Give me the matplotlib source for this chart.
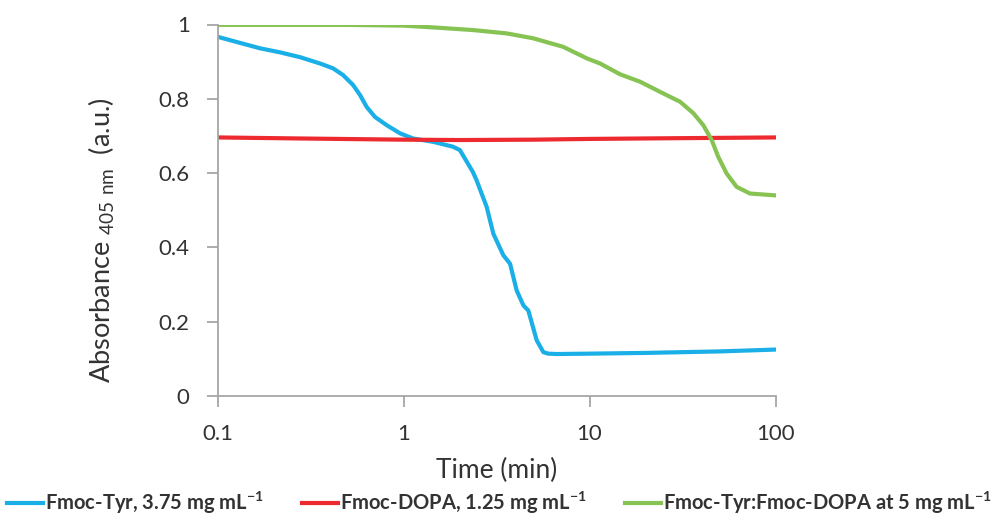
import matplotlib
matplotlib.use("Agg")
import matplotlib.pyplot as plt
from matplotlib.ticker import FixedLocator, FixedFormatter, NullLocator

plt.rcParams['font.family'] = ['Lato', 'DejaVu Sans']

# Data
tyr_x = [0.1, 0.169, 0.217, 0.278, 0.356, 0.418, 0.473, 0.536, 0.584, 0.634, 0.703, 0.812,
         0.958, 1.129, 1.45, 1.845, 2.01, 2.36, 2.47, 2.80, 3.04, 3.44, 3.74, 4.06, 4.41, 4.69,
         5.20, 5.65, 6.0, 6.67, 10, 20, 50, 100]
tyr_y = [0.967, 0.936, 0.925, 0.912, 0.895, 0.882, 0.864, 0.837, 0.810, 0.778, 0.751, 0.729,
         0.707, 0.693, 0.684, 0.671, 0.662, 0.603, 0.581, 0.509, 0.437, 0.379, 0.356, 0.284,
         0.244, 0.230, 0.150, 0.118, 0.114, 0.113, 0.114, 0.116, 0.120, 0.125]

dopa_x = [0.1, 0.3, 1, 2, 5, 10, 30, 100]
dopa_y = [0.696, 0.693, 0.690, 0.689, 0.690, 0.692, 0.694, 0.696]

mix_x = [0.1, 0.5, 1.0, 1.57, 2.37, 3.59, 4.97, 7.21, 9.66, 11.4, 14.6, 18.7, 23.9, 30.7,
         36.2, 40.9, 45.4, 49.2, 54.6, 61.8, 72.9, 100]
mix_y = [0.999, 0.999, 0.997, 0.991, 0.985, 0.976, 0.963, 0.940, 0.909, 0.895, 0.866, 0.846,
         0.819, 0.792, 0.761, 0.729, 0.689, 0.644, 0.599, 0.563, 0.545, 0.540]

labels = ['Fmoc-Tyr, 3.75 mg mL$^{\\mathregular{-1}}$',
          'Fmoc-DOPA, 1.25 mg mL$^{\\mathregular{-1}}$',
          'Fmoc-Tyr:Fmoc-DOPA at 5 mg mL$^{\\mathregular{-1}}$']
colors = ['#1AAFE6', '#EC2A2F', '#86C352']

xticks = [0.1, 1, 10, 100]
xticklabels = ['0.1', '1', '10', '100']
yticks = [0, 0.2, 0.4, 0.6, 0.8, 1]
yticklabels = ['0', '0.2', '0.4', '0.6', '0.8', '1']

fig = plt.figure(figsize=(9.99, 5.21), dpi=100)
ax = fig.add_axes([217.5 / 999, 1 - 396 / 521, (775.5 - 217.5) / 999, (396 - 24.5) / 521])

lw = 3.0
ax.plot(tyr_x, tyr_y, color=colors[0], lw=lw, label=labels[0], solid_joinstyle='round')
ax.plot(dopa_x, dopa_y, color=colors[1], lw=lw, label=labels[1], solid_joinstyle='round')
ax.plot(mix_x, mix_y, color=colors[2], lw=lw, label=labels[2], solid_joinstyle='round')

ax.set_xscale('log')
ax.set_xlim(0.1, 100)
ax.set_ylim(0, 1)
ax.xaxis.set_major_locator(FixedLocator(xticks))
ax.xaxis.set_major_formatter(FixedFormatter(xticklabels))
ax.xaxis.set_minor_locator(NullLocator())
ax.set_yticks(yticks)
ax.set_yticklabels(yticklabels)

axis_col = '#A6A6A6'
text_col = '#333333'
for s in ['top', 'right']:
    ax.spines[s].set_visible(False)
for s in ['left', 'bottom']:
    ax.spines[s].set_color(axis_col)
    ax.spines[s].set_linewidth(1.3)
ax.tick_params(axis='both', direction='out', length=8, width=1.3, color=axis_col,
               labelsize=16, labelcolor=text_col)
ax.tick_params(axis='y', pad=12)
ax.tick_params(axis='x', pad=12)

ax.set_xlabel('Time (min)', fontsize=19, color=text_col, labelpad=10)
ax.set_ylabel('Absorbance $_{\\mathregular{405\\ nm}}$  (a.u.)', fontsize=19.5, color=text_col)
ax.yaxis.set_label_coords(-0.18, 0.42)

leg = fig.legend(loc='center', bbox_to_anchor=(0.5, 1 - 503 / 521), ncol=3, frameon=False,
                 handlelength=1.8, handletextpad=0.1, columnspacing=1.9,
                 prop={'size': 14.5, 'weight': 'bold'})
for t in leg.get_texts():
    t.set_color(text_col)

fig.savefig('out.png', dpi=100)
